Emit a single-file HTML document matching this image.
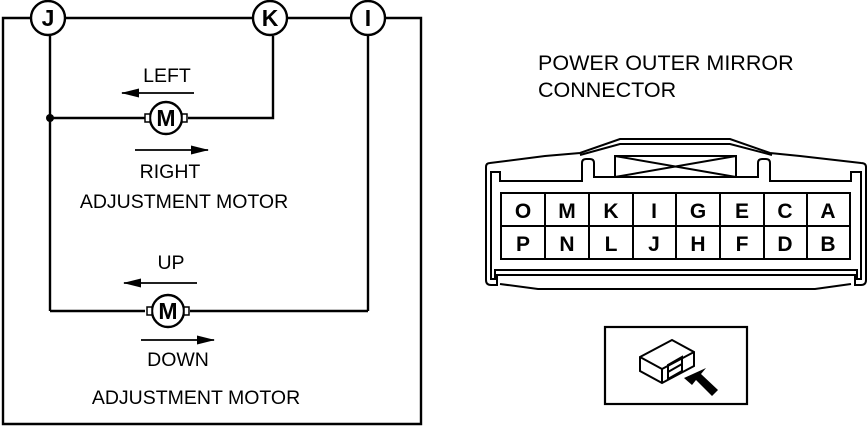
<!DOCTYPE html>
<html><head><style>body{margin:0;background:#fff}svg{display:block}text{font-family:"Liberation Sans",Arial,sans-serif;fill:#000}</style></head><body>
<svg width="868" height="434" viewBox="0 0 868 434" xmlns="http://www.w3.org/2000/svg">
<defs><marker id="ah2" markerWidth="18" markerHeight="9" refX="17" refY="4.5" orient="auto" markerUnits="userSpaceOnUse"><path d="M0,0L18,4.5L0,9z" fill="#000"/></marker></defs>
<g stroke="#000" stroke-width="2.4" fill="none">
<polyline points="30,18 3,18 3,424 421,424 421,18 386,18"/>
<line x1="66" y1="18" x2="252" y2="18"/><line x1="288" y1="18" x2="350" y2="18"/>
<line x1="50" y1="36" x2="50" y2="311"/>
<polyline points="273,36 273,118 188,118"/>
<line x1="50" y1="118" x2="145" y2="118"/>
<line x1="368" y1="36" x2="368" y2="311"/>
<line x1="50" y1="311" x2="145" y2="311"/><line x1="190" y1="311" x2="368" y2="311"/>
<circle cx="48" cy="18" r="17" fill="#fff"/><circle cx="270" cy="18" r="17" fill="#fff"/><circle cx="368" cy="18" r="17" fill="#fff"/>
<circle cx="166" cy="118" r="16" fill="#fff"/><circle cx="168" cy="311" r="16" fill="#fff"/>
<rect x="145" y="114" width="5" height="8" fill="#fff" stroke-width="1.5"/><rect x="182" y="114" width="5" height="8" fill="#fff" stroke-width="1.5"/>
<rect x="147" y="307" width="5" height="8" fill="#fff" stroke-width="1.5"/><rect x="184" y="307" width="5" height="8" fill="#fff" stroke-width="1.5"/>
<line x1="194" y1="93" x2="122" y2="93" stroke-width="1.8" marker-end="url(#ah2)"/>
<line x1="135" y1="150" x2="208" y2="150" stroke-width="1.8" marker-end="url(#ah2)"/>
<line x1="197" y1="283" x2="124" y2="283" stroke-width="1.8" marker-end="url(#ah2)"/>
<line x1="141" y1="340" x2="214" y2="340" stroke-width="1.8" marker-end="url(#ah2)"/>
</g>
<circle cx="50" cy="118" r="4" fill="#000"/>
<g font-size="23" font-weight="bold" text-anchor="middle">
<text x="48" y="26">J</text><text x="270" y="26">K</text><text x="368" y="26">I</text>
<text x="166" y="126">M</text><text x="168" y="319">M</text></g>
<g font-size="19.5" text-anchor="middle">
<text x="167" y="82">LEFT</text><text x="170" y="178">RIGHT</text>
<text x="184" y="208">ADJUSTMENT MOTOR</text>
<text x="171" y="269">UP</text><text x="178" y="366">DOWN</text>
<text x="196" y="404">ADJUSTMENT MOTOR</text></g>
<g font-size="21.5">
<text x="538" y="70">POWER OUTER MIRROR</text>
<text x="538" y="97">CONNECTOR</text></g>
<g stroke="#000" stroke-width="2" fill="none">
<path d="M486,167 L486,280 Q486,285 491,285 L497,285 L497,275 L855,275 L855,285 L861,285 Q866,285 866,280 L866,167 Q866,163 861,163 L800,156 L770,153 L730,139 L620,139 L580,153 L545,156 L490,163 Q486,163 486,167 Z"/>
<path d="M491,172 L491,279 L495,279 L495,270 L857,270 L857,279 L861,279 L861,172 L851,172 L851,181 L770,181 L770,163 Q770,159 766,159 L762,159 Q758,159 758,163 L758,177 L594,177 L594,163 Q594,159 590,159 L586,159 Q582,159 582,163 L582,181 L500,181 L500,172 Z"/>
<path d="M580,155 L620,144 L730,144 L772,155"/>
<path d="M500,284 L538,289 L815,289 L851,284"/>
<rect x="615" y="156" width="121" height="21"/>
<path d="M615,156 L736,177 M615,177 L736,156"/>
<rect x="501" y="193" width="349" height="66"/><line x1="501" y1="226" x2="850" y2="226"/>
<line x1="545" y1="193" x2="545" y2="259"/><line x1="589" y1="193" x2="589" y2="259"/><line x1="633" y1="193" x2="633" y2="259"/><line x1="676" y1="193" x2="676" y2="259"/><line x1="720" y1="193" x2="720" y2="259"/><line x1="764" y1="193" x2="764" y2="259"/><line x1="807" y1="193" x2="807" y2="259"/>
<rect x="605" y="327" width="142" height="77" stroke-width="2.2"/>
<path d="M640,357 L672,340 L694,352 L694,366 L662,383 L640,371 Z M640,357 L662,369 L694,352 M662,369 L662,383"/>
<path d="M668,365 L682,357 L682,371 L668,379 Z M668,372 L682,364"/>
</g>
<path d="M684,378 L706,368 L701,374 L718,390 L712,396 L696,380 L692,385 Z" fill="#000"/>
<g font-size="21" font-weight="bold" text-anchor="middle">
<text x="523" y="218">O</text><text x="567" y="218">M</text><text x="611" y="218">K</text><text x="654" y="218">I</text><text x="698" y="218">G</text><text x="742" y="218">E</text><text x="785" y="218">C</text><text x="828" y="218">A</text>
<text x="523" y="251">P</text><text x="567" y="251">N</text><text x="611" y="251">L</text><text x="654" y="251">J</text><text x="698" y="251">H</text><text x="742" y="251">F</text><text x="785" y="251">D</text><text x="828" y="251">B</text>
</g>
</svg>
</body></html>
